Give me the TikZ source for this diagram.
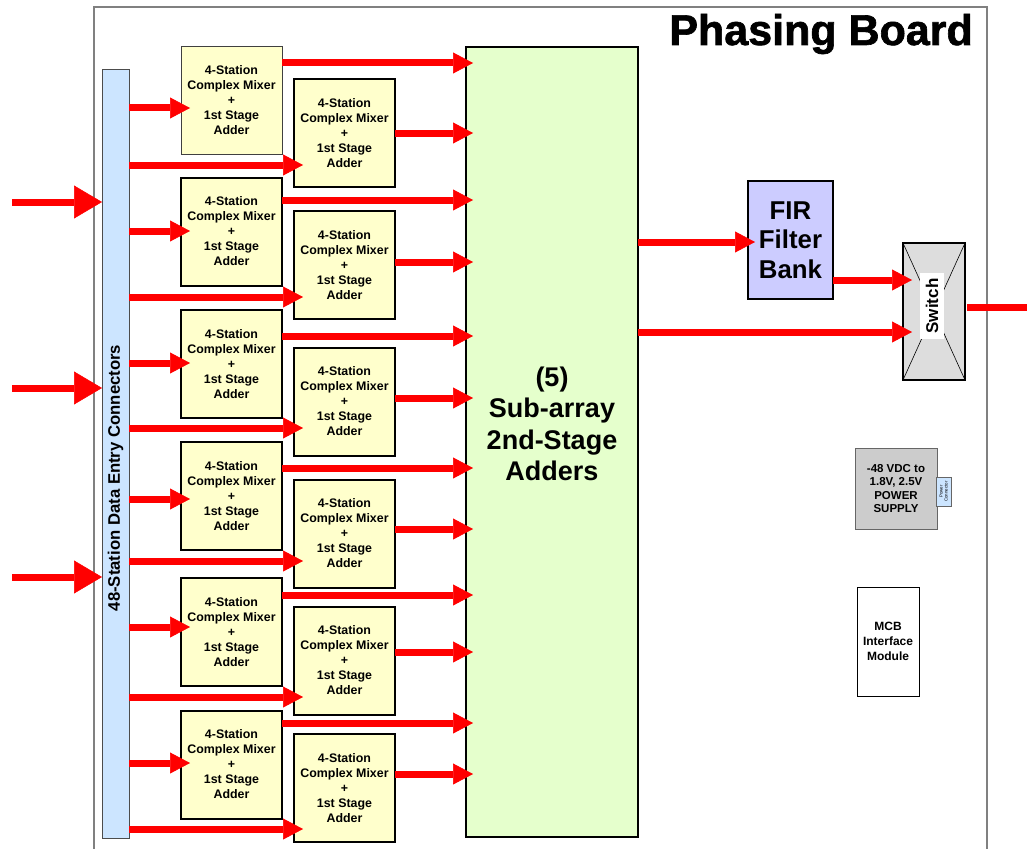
\documentclass[tikz,border=0pt]{standalone}
\usepackage{fontspec}
\setmainfont{Liberation Sans}
\newfontfamily\titlefont[UprightFont={Liberation Sans Bold}, UprightFeatures={FakeBold=1.5}]{Liberation Sans}
\usetikzlibrary{arrows.meta}
\definecolor{mixfill}{RGB}{255,255,204}
\definecolor{barfill}{RGB}{204,229,255}
\definecolor{addfill}{RGB}{229,255,204}
\definecolor{firfill}{RGB}{204,204,255}
\definecolor{swfill}{RGB}{221,221,221}
\definecolor{psfill}{RGB}{204,204,204}
\definecolor{boardline}{RGB}{128,128,128}
\definecolor{sigred}{RGB}{255,0,0}

\tikzset{
  box/.style={inner sep=0pt, outer sep=0pt, align=center},
  mixer/.style={box, draw=black, line width=2pt, fill=mixfill,
    minimum width=101pt, minimum height=108pt,
    font=\fontsize{12.4}{15}\selectfont\bfseries},
  sig/.style={draw=sigred, line width=7pt,
    -{Triangle[length=20pt,width=21pt,line width=0.5pt]}},
  bigsig/.style={draw=sigred, line width=7pt,
    -{Triangle[length=28pt,width=33pt,line width=0.5pt]}},
  into/.style={shorten >=-#1},
  into/.default=8pt
}

\begin{document}
\begin{tikzpicture}[x=1pt,y=-1pt]
\useasboundingbox (0,0) rectangle (1027,848);

% board outline
\draw[boardline, line width=1.5pt] (94,870) -- (94,7) -- (987,7) -- (987,870);
\node[anchor=base east, inner sep=0pt, font=\titlefont\fontsize{43}{43}\selectfont]
  (title) at (973,45) {Phasing Board};

% data entry connector bar
\node[box, draw=black!70, line width=1pt, fill=barfill,
  minimum width=27pt, minimum height=768pt] (bar) at (115.5,454) {};
\node[rotate=90, inner sep=0pt, font=\fontsize{16.7}{18}\selectfont\bfseries]
  (barlabel) at (115.5,478) {48-Station Data Entry Connectors};

% second stage adders
\node[box, draw=black, line width=2pt, fill=addfill,
  minimum width=172pt, minimum height=790pt] (G) at (552,442) {};
\node[box, font=\fontsize{27}{31.5}\selectfont\bfseries] (Glabel) at (552,424)
  {(5)\\Sub-array\\2nd-Stage\\Adders};

% mixers, column A
\node[mixer, draw=black!75, line width=1pt] (A1) at (231.5,100.5) {4-Station\\Complex Mixer\\+\\1st Stage\\Adder};
\node[mixer] (A2) at (231.5,231.5) {4-Station\\Complex Mixer\\+\\1st Stage\\Adder};
\node[mixer] (A3) at (231.5,364) {4-Station\\Complex Mixer\\+\\1st Stage\\Adder};
\node[mixer] (A4) at (231.5,496) {4-Station\\Complex Mixer\\+\\1st Stage\\Adder};
\node[mixer] (A5) at (231.5,632) {4-Station\\Complex Mixer\\+\\1st Stage\\Adder};
\node[mixer] (A6) at (231.5,764.5) {4-Station\\Complex Mixer\\+\\1st Stage\\Adder};

% mixers, column B
\node[mixer] (B1) at (344.5,133) {4-Station\\Complex Mixer\\+\\1st Stage\\Adder};
\node[mixer] (B2) at (344.5,265) {4-Station\\Complex Mixer\\+\\1st Stage\\Adder};
\node[mixer] (B3) at (344.5,401.5) {4-Station\\Complex Mixer\\+\\1st Stage\\Adder};
\node[mixer] (B4) at (344.5,533.5) {4-Station\\Complex Mixer\\+\\1st Stage\\Adder};
\node[mixer] (B5) at (344.5,660.5) {4-Station\\Complex Mixer\\+\\1st Stage\\Adder};
\node[mixer] (B6) at (344.5,788) {4-Station\\Complex Mixer\\+\\1st Stage\\Adder};

% FIR filter bank
\node[box, draw=black, line width=2pt, fill=firfill,
  minimum width=85pt, minimum height=118pt,
  font=\fontsize{25.8}{29.5}\selectfont\bfseries] (FIR) at (790.5,240) {FIR\\Filter\\Bank};

% output switch
\node[box, draw=black, line width=2pt, fill=swfill,
  minimum width=62pt, minimum height=137pt] (SW) at (934,311.5) {};
\draw[line width=0.6pt] (SW.north west) -- (SW.south east);
\draw[line width=0.6pt] (SW.north east) -- (SW.south west);
\node[box, fill=white, rotate=90, minimum width=66pt, minimum height=24pt,
  font=\fontsize{17}{17}\selectfont\bfseries] (SWlabel) at (932,306) {Switch};

% power supply and its connector
\node[box, draw=black!60, line width=1pt, fill=psfill,
  minimum width=82pt, minimum height=81pt,
  font=\fontsize{11.5}{13.3}\selectfont\bfseries] (PS) at (896,488.5)
  {-48 VDC to\\1.8V, 2.5V\\POWER\\SUPPLY};
\node[box, draw=black!60, line width=0.6pt, fill=barfill,
  minimum width=15pt, minimum height=29pt] (PC) at (943.5,491.5) {};
\node[box, rotate=90, font=\fontsize{4.4}{5}\selectfont] (PClabel) at (943.5,491.5)
  {Power\\Connector};

% MCB interface module
\node[box, draw=black, line width=0.8pt, fill=white,
  minimum width=62pt, minimum height=109pt,
  font=\fontsize{12}{15}\selectfont\bfseries] (MCB) at (888,641.5)
  {MCB\\Interface\\Module};

% external inputs
\coordinate (in1) at (12,202);
\coordinate (in2) at (12,388);
\coordinate (in3) at (12,577);
\draw[bigsig] (in1) -- (bar.west |- in1);
\draw[bigsig] (in2) -- (bar.west |- in2);
\draw[bigsig] (in3) -- (bar.west |- in3);

% connector bar to column A
\draw[sig, into=9pt] (bar.east |- 0,108) -- (A1.west |- 0,108);
\draw[sig, into=9pt] (bar.east |- 0,231) -- (A2.west |- 0,231);
\draw[sig, into=9pt] (bar.east |- 0,363) -- (A3.west |- 0,363);
\draw[sig, into=9pt] (bar.east |- 0,499) -- (A4.west |- 0,499);
\draw[sig, into=9pt] (bar.east |- 0,627) -- (A5.west |- 0,627);
\draw[sig, into=9pt] (bar.east |- 0,763) -- (A6.west |- 0,763);

% connector bar to column B
\draw[sig, into=9pt] (bar.east |- 0,165) -- (B1.west |- 0,165);
\draw[sig, into=9pt] (bar.east |- 0,297) -- (B2.west |- 0,297);
\draw[sig, into=9pt] (bar.east |- 0,428) -- (B3.west |- 0,428);
\draw[sig, into=9pt] (bar.east |- 0,561) -- (B4.west |- 0,561);
\draw[sig, into=9pt] (bar.east |- 0,697) -- (B5.west |- 0,697);
\draw[sig, into=9pt] (bar.east |- 0,829) -- (B6.west |- 0,829);

% column A to second stage
\draw[sig, into=7pt] (A1.east |- 0,63) -- (G.west |- 0,63);
\draw[sig, into=7pt] (A2.east |- 0,200) -- (G.west |- 0,200);
\draw[sig, into=7pt] (A3.east |- 0,336) -- (G.west |- 0,336);
\draw[sig, into=7pt] (A4.east |- 0,468) -- (G.west |- 0,468);
\draw[sig, into=7pt] (A5.east |- 0,595) -- (G.west |- 0,595);
\draw[sig, into=7pt] (A6.east |- 0,723) -- (G.west |- 0,723);

% column B to second stage
\draw[sig, into=7pt] (B1.east |- 0,133) -- (G.west |- 0,133);
\draw[sig, into=7pt] (B2.east |- 0,262) -- (G.west |- 0,262);
\draw[sig, into=7pt] (B3.east |- 0,398) -- (G.west |- 0,398);
\draw[sig, into=7pt] (B4.east |- 0,529) -- (G.west |- 0,529);
\draw[sig, into=7pt] (B5.east |- 0,652) -- (G.west |- 0,652);
\draw[sig, into=7pt] (B6.east |- 0,774) -- (G.west |- 0,774);

% second stage to filter and switch
\draw[sig, into=7pt] (G.east |- 0,242) -- (FIR.west |- 0,242);
\draw[sig, into=9pt] (G.east |- 0,332) -- (SW.west |- 0,332);
\draw[sig, into=9pt] (FIR.east |- 0,280) -- (SW.west |- 0,280);

% switch output
\coordinate (out) at (1027,307);
\draw[draw=sigred, line width=7pt] ([xshift=2pt]SW.east |- out) -- (out);
\end{tikzpicture}
\end{document}
